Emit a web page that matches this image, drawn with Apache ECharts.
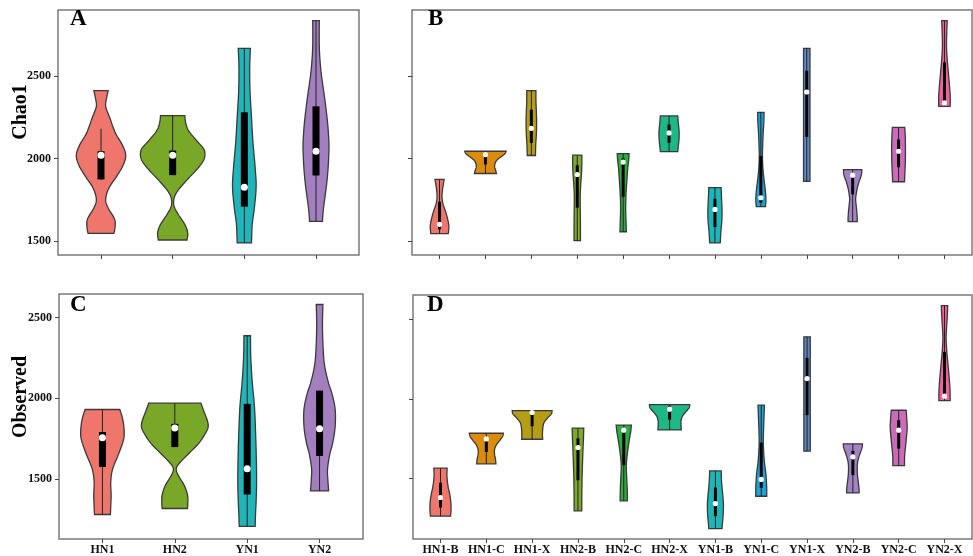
<!DOCTYPE html>
<html>
<head>
<meta charset="utf-8">
<script src="https://cdn.jsdelivr.net/npm/echarts@6/dist/echarts.min.js"></script>
<style>
  html, body { margin: 0; padding: 0; background: #fff; }
  #chart { width: 973px; height: 556px; }
</style>
</head>
<body>
<div id="chart"></div>
<script>
// categories
const groups = ['HN1', 'HN2', 'YN1', 'YN2'];
const subgroups = ['HN1-B', 'HN1-C', 'HN1-X', 'HN2-B', 'HN2-C', 'HN2-X',
                   'YN1-B', 'YN1-C', 'YN1-X', 'YN2-B', 'YN2-C', 'YN2-X'];
const yTicks = [1500, 2000, 2500];

// box stats per violin: [lower whisker, q1, median, q3, upper whisker]
const chaoGroupStats = [
  [1873, 1873, 2020, 2044, 2180],
  [1899, 1899, 2020, 2048, 2260],
  [1488, 1708, 1826, 2280, 2667],
  [1619, 1897, 2044, 2316, 2835]
];
const obsGroupStats = [
  [1279, 1574, 1755, 1790, 1930],
  [1697, 1697, 1815, 1841, 1969],
  [1205, 1403, 1563, 1965, 2387],
  [1425, 1642, 1810, 2047, 2047]
];
const chaoSubStats = [
  [1544, 1570, 1601, 1738, 1873],
  [1909, 1964, 2024, 2024, 2044],
  [2018, 2095, 2183, 2296, 2411],
  [1502, 1702, 1903, 1959, 2020],
  [1556, 1768, 1978, 2000, 2030],
  [2042, 2095, 2155, 2206, 2258],
  [1488, 1584, 1691, 1756, 1823],
  [1708, 1732, 1762, 2014, 2280],
  [1861, 2131, 2403, 2532, 2667],
  [1617, 1782, 1899, 1913, 1933],
  [1859, 1947, 2044, 2115, 2189],
  [2316, 2337, 2337, 2583, 2835]
];
const obsSubStats = [
  [1259, 1314, 1377, 1470, 1562],
  [1590, 1665, 1747, 1747, 1783],
  [1745, 1827, 1914, 1914, 1926],
  [1293, 1486, 1693, 1750, 1815],
  [1356, 1581, 1802, 1802, 1834],
  [1804, 1869, 1935, 1956, 1964],
  [1181, 1259, 1339, 1440, 1545],
  [1385, 1438, 1491, 1724, 1960],
  [1670, 1897, 2128, 2259, 2392],
  [1406, 1518, 1634, 1672, 1716],
  [1579, 1686, 1802, 1865, 1928],
  [1989, 2017, 2017, 2297, 2589]
];

// violin density profiles: [value, half width in category units], top to bottom
const chaoGroupDensity = [
  [[2411,0.10],[2370,0.08],[2316,0.065],[2250,0.12],[2155,0.2],[2080,0.3],[2020,0.345],[1960,0.31],[1893,0.22],[1820,0.11],[1752,0.065],[1700,0.1],[1631,0.19],[1580,0.195],[1546,0.18]],
  [[2260,0.17],[2220,0.18],[2170,0.22],[2110,0.33],[2060,0.43],[2020,0.45],[1980,0.42],[1930,0.33],[1870,0.2],[1810,0.08],[1760,0.02],[1710,0.02],[1660,0.08],[1600,0.17],[1550,0.21],[1506,0.2]],
  [[2667,0.085],[2550,0.075],[2400,0.08],[2250,0.1],[2100,0.12],[1950,0.15],[1830,0.165],[1700,0.14],[1600,0.11],[1488,0.1]],
  [[2835,0.046],[2700,0.045],[2600,0.055],[2500,0.077],[2400,0.11],[2300,0.14],[2200,0.165],[2100,0.18],[2045,0.18],[1950,0.17],[1850,0.15],[1750,0.12],[1680,0.1],[1619,0.09]]
];
const obsGroupDensity = [
  [[1930,0.24],[1870,0.28],[1800,0.30],[1740,0.29],[1650,0.22],[1560,0.14],[1480,0.115],[1400,0.12],[1330,0.115],[1279,0.11]],
  [[1969,0.36],[1920,0.40],[1860,0.45],[1820,0.46],[1780,0.42],[1720,0.33],[1660,0.2],[1600,0.07],[1563,0.02],[1520,0.05],[1460,0.13],[1400,0.175],[1350,0.18],[1316,0.175]],
  [[2387,0.045],[2250,0.05],[2100,0.07],[1950,0.1],[1800,0.115],[1650,0.125],[1500,0.13],[1380,0.125],[1280,0.115],[1205,0.11]],
  [[2581,0.046],[2450,0.04],[2300,0.05],[2200,0.07],[2100,0.12],[2030,0.17],[1950,0.21],[1880,0.22],[1800,0.21],[1720,0.18],[1650,0.14],[1560,0.11],[1490,0.115],[1425,0.125]]
];
const chaoSubDensity = [
  [[1873,0.1],[1840,0.08],[1800,0.06],[1760,0.055],[1720,0.08],[1680,0.13],[1640,0.17],[1600,0.2],[1570,0.2],[1544,0.19]],
  [[2044,0.45],[2030,0.43],[2010,0.34],[1990,0.25],[1970,0.21],[1950,0.2],[1930,0.22],[1909,0.24]],
  [[2411,0.1],[2350,0.1],[2280,0.11],[2220,0.115],[2150,0.11],[2080,0.095],[2018,0.09]],
  [[2020,0.1],[1960,0.1],[1900,0.09],[1840,0.075],[1780,0.065],[1720,0.065],[1650,0.068],[1580,0.07],[1502,0.07]],
  [[2030,0.13],[1990,0.12],[1940,0.1],[1880,0.085],[1820,0.07],[1760,0.06],[1700,0.055],[1640,0.06],[1556,0.07]],
  [[2258,0.19],[2220,0.2],[2180,0.215],[2150,0.22],[2110,0.215],[2070,0.2],[2042,0.19]],
  [[1823,0.135],[1780,0.14],[1720,0.15],[1671,0.155],[1620,0.15],[1560,0.13],[1488,0.115]],
  [[2280,0.07],[2220,0.065],[2150,0.05],[2080,0.04],[2010,0.035],[1940,0.045],[1870,0.07],[1800,0.1],[1750,0.11],[1708,0.1]],
  [[2667,0.07],[2500,0.07],[2300,0.07],[2100,0.07],[1861,0.07]],
  [[1933,0.2],[1900,0.19],[1860,0.14],[1820,0.1],[1780,0.075],[1752,0.065],[1720,0.075],[1680,0.09],[1640,0.1],[1617,0.1]],
  [[2189,0.135],[2140,0.145],[2080,0.15],[2020,0.15],[1960,0.145],[1900,0.135],[1859,0.13]],
  [[2835,0.06],[2760,0.05],[2680,0.045],[2600,0.06],[2520,0.085],[2440,0.11],[2380,0.125],[2316,0.125]]
];
const obsSubDensity = [
  [[1562,0.145],[1520,0.14],[1480,0.15],[1440,0.17],[1400,0.2],[1350,0.225],[1300,0.23],[1259,0.22]],
  [[1783,0.37],[1765,0.36],[1740,0.3],[1710,0.22],[1680,0.18],[1650,0.18],[1620,0.2],[1590,0.21]],
  [[1926,0.435],[1905,0.42],[1880,0.34],[1850,0.26],[1820,0.235],[1780,0.225],[1745,0.23]],
  [[1815,0.127],[1750,0.12],[1680,0.11],[1600,0.1],[1500,0.09],[1400,0.085],[1293,0.083]],
  [[1834,0.167],[1790,0.15],[1740,0.12],[1680,0.09],[1620,0.065],[1570,0.055],[1500,0.065],[1430,0.075],[1356,0.08]],
  [[1964,0.44],[1945,0.43],[1920,0.36],[1890,0.28],[1860,0.25],[1830,0.25],[1804,0.255]],
  [[1545,0.127],[1500,0.13],[1440,0.145],[1380,0.165],[1330,0.175],[1270,0.17],[1220,0.155],[1181,0.145]],
  [[1960,0.07],[1880,0.06],[1800,0.05],[1740,0.045],[1680,0.05],[1600,0.07],[1530,0.1],[1470,0.115],[1420,0.12],[1385,0.12]],
  [[2392,0.07],[2200,0.07],[1950,0.07],[1670,0.07]],
  [[1716,0.21],[1690,0.2],[1650,0.15],[1610,0.11],[1570,0.095],[1520,0.1],[1470,0.12],[1430,0.135],[1406,0.137]],
  [[1928,0.163],[1880,0.175],[1820,0.185],[1760,0.17],[1700,0.15],[1640,0.13],[1579,0.127]],
  [[2589,0.07],[2520,0.06],[2450,0.045],[2380,0.035],[2300,0.05],[2220,0.075],[2140,0.1],[2060,0.12],[1989,0.123]]
];

const groupColors = ['#EE766C', '#79A829', '#1FB5B9', '#A37FC0'];
const subColors = ['#EE766C', '#DB8C0C', '#B59D16', '#7DAA2A', '#2CAD3E', '#1DB886',
                   '#1DB7B9', '#1EA3D9', '#5E87C7', '#A383C4', '#CB6CB9', '#F2609E'];

const FONT = 'Liberation Serif';

// catmull-rom through pixel points so the violin sides look smooth
function smoothSide(pts) {
    const out = [];
    const n = pts.length;
    for (let i = 0; i < n - 1; i++) {
        const p0 = pts[Math.max(i - 1, 0)], p1 = pts[i], p2 = pts[i + 1], p3 = pts[Math.min(i + 2, n - 1)];
        for (let s = 0; s < 8; s++) {
            const t = s / 8, t2 = t * t, t3 = t2 * t;
            out.push([0, 1].map(k => 0.5 * ((2 * p1[k]) + (-p0[k] + p2[k]) * t +
                (2 * p0[k] - 5 * p1[k] + 4 * p2[k] - p3[k]) * t2 +
                (-p0[k] + 3 * p1[k] - 3 * p2[k] + p3[k]) * t3)));
        }
    }
    out.push(pts[n - 1]);
    return out;
}

function violinRender(density, colors, boxW, dotR) {
    return function (params, api) {
        const i = params.dataIndex;
        const x = api.value(0);
        const right = density[i].map(p => api.coord([x + p[1], p[0]]));
        const left = density[i].map(p => api.coord([x - p[1], p[0]]));
        const pts = smoothSide(right).concat(smoothSide(left).reverse());
        const lo = api.coord([x, api.value(1)]);
        const q1 = api.coord([x, api.value(2)]);
        const med = api.coord([x, api.value(3)]);
        const q3 = api.coord([x, api.value(4)]);
        const hi = api.coord([x, api.value(5)]);
        return {
            type: 'group',
            children: [
                { type: 'polygon', shape: { points: pts },
                  style: { fill: colors[i], stroke: '#3a3a3a', lineWidth: 1.3 } },
                { type: 'line', shape: { x1: lo[0], y1: lo[1], x2: hi[0], y2: hi[1] },
                  style: { stroke: '#222', lineWidth: 1 } },
                { type: 'rect', shape: { x: q3[0] - boxW / 2, y: q3[1], width: boxW, height: Math.max(q1[1] - q3[1], 1) },
                  style: { fill: '#000' } },
                { type: 'circle', shape: { cx: med[0], cy: med[1], r: dotR },
                  style: { fill: '#fff' } }
            ]
        };
    };
}

const grids = [
    { left: 58, top: 10, width: 301, height: 245 },
    { left: 412, top: 10, width: 560, height: 245 },
    { left: 59, top: 294, width: 304, height: 245 },
    { left: 413, top: 295, width: 559, height: 244 }
].map(g => Object.assign(g, { show: true, borderColor: '#7a7a7a', borderWidth: 1.5, backgroundColor: '#fff' }));

function xAxisFor(idx, names, showLabel) {
    const vals = names.map((n, i) => i + 1);
    return {
        gridIndex: idx, type: 'value', min: 0.4, max: names.length + 0.6,
        axisLine: { show: false },
        splitLine: { show: false },
        axisTick: { show: true, length: 4, customValues: vals, lineStyle: { color: '#444' } },
        axisLabel: {
            show: showLabel, customValues: vals, margin: 5,
            formatter: v => names[Math.round(v) - 1] || '',
            fontFamily: FONT, fontWeight: 'bold', fontSize: 12, color: '#111'
        }
    };
}

function yAxisFor(idx, min, max, showLabel) {
    return {
        gridIndex: idx, type: 'value', min: min, max: max,
        axisLine: { show: false },
        splitLine: { show: false },
        axisTick: { show: true, length: 4, customValues: yTicks, lineStyle: { color: '#444' } },
        axisLabel: {
            show: showLabel, customValues: yTicks, margin: 7,
            formatter: v => String(v),
            fontFamily: FONT, fontWeight: 'bold', fontSize: 12, color: '#111'
        }
    };
}

function violinSeries(idx, stats, density, colors, boxW, dotR) {
    return {
        type: 'custom',
        xAxisIndex: idx, yAxisIndex: idx,
        renderItem: violinRender(density, colors, boxW, dotR),
        encode: { x: 0, y: [1, 2, 3, 4, 5] },
        data: stats.map((s, i) => [i + 1].concat(s)),
        silent: true
    };
}

function panelLetter(text, x, y) {
    return { type: 'text', x: x, y: y, style: { text: text, font: 'bold 23px "' + FONT + '"', fill: '#000', verticalAlign: 'middle' } };
}

function axisName(text, x, y) {
    return { type: 'text', x: x, y: y, rotation: Math.PI / 2,
             style: { text: text, font: 'bold 20px "' + FONT + '"', fill: '#000', align: 'center', verticalAlign: 'middle' } };
}

const chart = echarts.init(document.getElementById('chart'));
chart.setOption({
    backgroundColor: '#fff',
    animation: false,
    grid: grids,
    xAxis: [
        xAxisFor(0, groups, false),
        xAxisFor(1, subgroups, false),
        xAxisFor(2, groups, true),
        xAxisFor(3, subgroups, true)
    ],
    yAxis: [
        yAxisFor(0, 1415, 2900, true),
        yAxisFor(1, 1415, 2900, false),
        yAxisFor(2, 1127, 2646, true),
        yAxisFor(3, 1115, 2656, false)
    ],
    series: [
        violinSeries(0, chaoGroupStats, chaoGroupDensity, groupColors, 7, 3.5),
        violinSeries(1, chaoSubStats, chaoSubDensity, subColors, 3, 2.6),
        violinSeries(2, obsGroupStats, obsGroupDensity, groupColors, 7, 3.5),
        violinSeries(3, obsSubStats, obsSubDensity, subColors, 3, 2.6)
    ],
    graphic: [
        panelLetter('A', 70, 19),
        panelLetter('B', 428, 19),
        panelLetter('C', 70, 305),
        panelLetter('D', 427, 305),
        axisName('Chao1', 21, 112),
        axisName('Observed', 21, 397)
    ]
});
</script>
</body>
</html>
